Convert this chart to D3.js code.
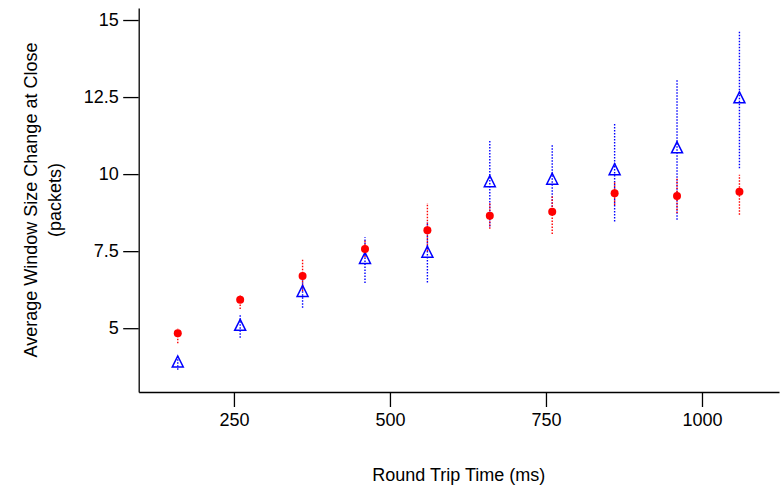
<!DOCTYPE html>
<html>
<head>
<meta charset="utf-8">
<script src="https://cdn.jsdelivr.net/npm/d3@7"></script>
<style>
  html, body { margin: 0; padding: 0; background: #fff; }
  svg { display: block; }
  text { font-family: "Liberation Sans", Arial, Helvetica, sans-serif; fill: #000; }
</style>
</head>
<body>
<svg id="chart" width="781" height="488"></svg>
<script>
// ---- data ----
const rtt = [160, 260, 360, 460, 560, 660, 760, 860, 960, 1060];

const redMean = [4.84, 5.92, 6.69, 7.57, 8.18, 8.65, 8.78, 9.38, 9.29, 9.43];
const redLo   = [4.51, 5.62, 6.20, 7.30, 7.50, 8.23, 8.06, 9.00, 8.74, 8.68];
const redHi   = [5.01, 6.11, 7.22, 7.85, 9.06, 9.07, 9.27, 9.75, 9.85, 9.98];

const blueMean = [3.92, 5.11, 6.21, 7.28, 7.48, 9.77, 9.85, 10.16, 10.87, 12.49];
const blueLo   = [3.65, 4.69, 5.66, 6.47, 6.48, 8.30, 8.75, 8.46, 8.52, 10.19];
const blueHi   = [4.10, 5.43, 6.70, 7.95, 8.45, 11.11, 10.98, 11.64, 13.06, 14.66];

const xTicks = [250, 500, 750, 1000];
const xTickLabels = ["250", "500", "750", "1000"];
const yTicks = [5, 7.5, 10, 12.5, 15];
const yTickLabels = ["5", "7.5", "10", "12.5", "15"];

const xTitle = "Round Trip Time (ms)";
const yTitle1 = "Average Window Size Change at Close";
const yTitle2 = "(packets)";

// ---- layout ----
const svg = d3.select("#chart");
const plot = { left: 138.7, right: 779, top: 8, bottom: 392 };

const x = d3.scaleLinear().domain([97.4, 1123.4]).range([plot.left, plot.right]);
const y = d3.scaleLinear().domain([2.93, 15.39]).range([plot.bottom, plot.top]);

const fontSize = 18;

// axes
const xAxis = d3.axisBottom(x)
  .tickValues(xTicks)
  .tickFormat((d, i) => xTickLabels[i])
  .tickSize(15).tickSizeOuter(0).tickPadding(6);
const yAxis = d3.axisLeft(y)
  .tickValues(yTicks)
  .tickFormat((d, i) => yTickLabels[i])
  .tickSize(15.5).tickSizeOuter(0).tickPadding(4.5);

const gx = svg.append("g").attr("transform", `translate(0,${plot.bottom})`).call(xAxis);
const gy = svg.append("g").attr("transform", `translate(${plot.left},0)`).call(yAxis);
[gx, gy].forEach(g => {
  g.selectAll("path, line").attr("stroke", "#000").attr("stroke-width", 1.3);
  g.selectAll("text").attr("font-size", fontSize)
    .attr("font-family", '"Liberation Sans", Arial, sans-serif').attr("fill", "#000");
});

// titles
svg.append("text")
  .attr("x", (plot.left + plot.right) / 2).attr("y", 481)
  .attr("text-anchor", "middle").attr("font-size", fontSize)
  .text(xTitle);

const yt = svg.append("g").attr("transform", "translate(0,200) rotate(-90)");
yt.append("text").attr("x", 0).attr("y", 37)
  .attr("text-anchor", "middle").attr("font-size", fontSize).text(yTitle1);
yt.append("text").attr("x", 0).attr("y", 61)
  .attr("text-anchor", "middle").attr("font-size", fontSize).text(yTitle2);

// error bars
function errBars(lo, hi, color) {
  svg.append("g").selectAll("line").data(rtt).join("line")
    .attr("x1", d => x(d)).attr("x2", d => x(d))
    .attr("y1", (d, i) => y(lo[i])).attr("y2", (d, i) => y(hi[i]))
    .attr("stroke", color).attr("stroke-width", 1.4)
    .attr("stroke-dasharray", "1.5,1.5");
}
errBars(blueLo, blueHi, "#0000ff");
errBars(redLo, redHi, "#ff0000");

// blue open triangles
const tw = 11, th = 11;
svg.append("g").selectAll("path").data(rtt).join("path")
  .attr("d", (d, i) => {
    const cx = x(d), cy = y(blueMean[i]);
    return `M${cx},${cy - th / 2}L${cx + tw / 2},${cy + th / 2}L${cx - tw / 2},${cy + th / 2}Z`;
  })
  .attr("fill", "none").attr("stroke", "#0000ff").attr("stroke-width", 1.5);

// red filled circles
svg.append("g").selectAll("circle").data(rtt).join("circle")
  .attr("cx", d => x(d)).attr("cy", (d, i) => y(redMean[i]))
  .attr("r", 4).attr("fill", "#ff0000");
</script>
</body>
</html>
